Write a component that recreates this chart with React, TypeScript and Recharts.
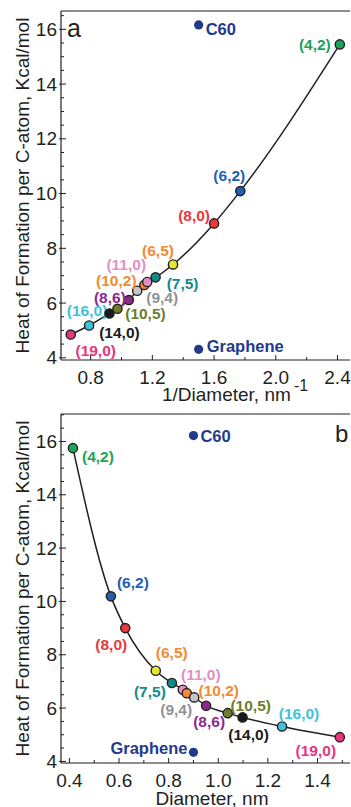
import React from "react";
import { ComposedChart, Line, Scatter, XAxis, YAxis } from "recharts";

// nanotube chiralities, same order in every array below
const tubes = ["(4,2)", "(6,2)", "(8,0)", "(6,5)", "(7,5)", "(11,0)", "(10,2)", "(9,4)", "(8,6)", "(10,5)", "(14,0)", "(16,0)", "(19,0)"];

// panel a: 1/diameter (nm^-1) vs heat of formation
const inverseDiameter = [2.415, 1.77, 1.6, 1.334, 1.221, 1.167, 1.148, 1.102, 1.048, 0.974, 0.922, 0.79, 0.671];
const heatA = [15.45, 10.09, 8.91, 7.41, 6.94, 6.77, 6.66, 6.45, 6.11, 5.79, 5.62, 5.18, 4.85];

// panel b: diameter (nm) vs heat of formation
const diameter = [0.414, 0.567, 0.625, 0.748, 0.813, 0.857, 0.873, 0.903, 0.951, 1.038, 1.098, 1.257, 1.49];
const heatB = [15.75, 10.19, 9.0, 7.4, 6.94, 6.69, 6.56, 6.4, 6.09, 5.81, 5.65, 5.31, 4.91];

// reference structures
const refNames = ["C60", "Graphene"];
const refInverse = [1.5, 1.5];
const refHeatA = [16.16, 4.31];
const refDiameter = [0.9, 0.9];
const refHeatB = [16.22, 4.34];

// ticks
const ticksA = [0.8, 1.0, 1.2, 1.4, 1.6, 1.8, 2.0, 2.2, 2.4];
const labelsA = [0.8, 1.2, 1.6, 2.0, 2.4];
const ticksB = [0.4, 0.5, 0.6, 0.7, 0.8, 0.9, 1.0, 1.1, 1.2, 1.3, 1.4, 1.5];
const labelsB = [0.4, 0.6, 0.8, 1.0, 1.2, 1.4];
const heatTicksA = [4, 4.5, 5, 5.5, 6, 6.5, 7, 7.5, 8, 8.5, 9, 9.5, 10, 10.5, 11, 11.5, 12, 12.5, 13, 13.5, 14, 14.5, 15, 15.5, 16, 16.5];
const heatTicksB = [...heatTicksA, 17];
const heatLabels = [4, 6, 8, 10, 12, 14, 16];

const INK = "#231f20";
const NAVY = "#233a8c";
const FONT = "'Liberation Sans', Arial, Helvetica, sans-serif";

const tubeStyle: Record<string, { fill: string; text: string }> = {
  "(4,2)": { fill: "#1aa556", text: "#1aa556" },
  "(6,2)": { fill: "#1f5fb4", text: "#1f5fb4" },
  "(8,0)": { fill: "#e83a3a", text: "#e83a3a" },
  "(6,5)": { fill: "#e6e82e", text: "#f48a32" },
  "(7,5)": { fill: "#118a8a", text: "#118a8a" },
  "(11,0)": { fill: "#e28fc6", text: "#e28fc6" },
  "(10,2)": { fill: "#f48a32", text: "#f48a32" },
  "(9,4)": { fill: "#c4c6c8", text: "#8d9398" },
  "(8,6)": { fill: "#8a2a8c", text: "#8a2a8c" },
  "(10,5)": { fill: "#6e7d2c", text: "#6e7d2c" },
  "(14,0)": { fill: "#1a1a1a", text: "#1a1a1a" },
  "(16,0)": { fill: "#3ec3da", text: "#3ec3da" },
  "(19,0)": { fill: "#e8357c", text: "#e8357c" },
};

// label centre offsets from each marker, px
const offsetsA: Record<string, [number, number]> = {
  "(4,2)": [-25, 0], "(6,2)": [-11, -16], "(8,0)": [-20, -8], "(6,5)": [-15, -14],
  "(7,5)": [27, 6], "(11,0)": [-21, -18], "(10,2)": [-28, -5], "(9,4)": [25, 7],
  "(8,6)": [-19, -3], "(10,5)": [28, 5], "(14,0)": [10, 19], "(16,0)": [-2, -15], "(19,0)": [25, 16],
};
const offsetsB: Record<string, [number, number]> = {
  "(4,2)": [25, 8], "(6,2)": [22, -14], "(8,0)": [-14, 16], "(6,5)": [16, -18],
  "(7,5)": [-22, 8], "(11,0)": [18, -15], "(10,2)": [32, -3], "(9,4)": [-18, 12],
  "(8,6)": [3, 16], "(10,5)": [23, -8], "(14,0)": [6, 17], "(16,0)": [17, -13], "(19,0)": [-24, 13],
};
const refPlaceA: Record<string, { dx: number; dy: number; anchor: "start" | "end" }> = {
  C60: { dx: 7, dy: 10, anchor: "start" },
  Graphene: { dx: 8, dy: 3, anchor: "start" },
};
const refPlaceB: Record<string, { dx: number; dy: number; anchor: "start" | "end" }> = {
  C60: { dx: 7, dy: 6, anchor: "start" },
  Graphene: { dx: -6, dy: 2, anchor: "end" },
};

const pointsA = tubes.map((name, i) => ({ name, x: inverseDiameter[i], y: heatA[i] })).sort((a, b) => a.x - b.x);
const pointsB = tubes.map((name, i) => ({ name, x: diameter[i], y: heatB[i] })).sort((a, b) => a.x - b.x);
const refsA = refNames.map((name, i) => ({ name, x: refInverse[i], y: refHeatA[i] }));
const refsB = refNames.map((name, i) => ({ name, x: refDiameter[i], y: refHeatB[i] }));

const isIn = (list: number[], v: number) => list.some((l) => Math.abs(l - v) < 1e-6);

type PanelProps = {
  height: number;
  top: number;
  points: Array<{ name: string; x: number; y: number }>;
  refs: Array<{ name: string; x: number; y: number }>;
  xDomain: [number, number];
  yDomain: [number, number];
  xTicks: number[];
  xLabels: number[];
  yTicks: number[];
  offsets: Record<string, [number, number]>;
  refPlace: Record<string, { dx: number; dy: number; anchor: "start" | "end" }>;
};

function Panel({ height, top, points, refs, xDomain, yDomain, xTicks, xLabels, yTicks, offsets, refPlace }: PanelProps) {
  const bottomTick = (p: any) => {
    const v = p.payload.value;
    const major = isIn(xLabels, v);
    return (
      <g>
        <line x1={p.x} x2={p.x} y1={p.y} y2={p.y - (major ? 5 : 3)} stroke={INK} strokeWidth={1} />
        {major && (
          <text x={p.x} y={p.y + 24} textAnchor="middle" fontSize={19} fontFamily={FONT} fill={INK}>
            {v.toFixed(1)}
          </text>
        )}
      </g>
    );
  };
  const topTick = (p: any) => {
    const major = isIn(xLabels, p.payload.value);
    return <line x1={p.x} x2={p.x} y1={p.y} y2={p.y + (major ? 5 : 3)} stroke={INK} strokeWidth={1} />;
  };
  const leftTick = (p: any) => {
    const v = p.payload.value;
    const major = isIn(heatLabels, v);
    return (
      <g>
        <line x1={p.x - (major ? 2 : 0)} x2={p.x + (major ? 5 : 3)} y1={p.y} y2={p.y} stroke={INK} strokeWidth={1} />
        {major && (
          <text x={p.x - 4} y={p.y + 6.5} textAnchor="end" fontSize={19} fontFamily={FONT} fill={INK}>
            {v}
          </text>
        )}
      </g>
    );
  };
  const renderDot = (p: any) => {
    const { cx, cy, payload, index } = p;
    const st = tubeStyle[payload.name];
    const [dx, dy] = offsets[payload.name];
    return (
      <g key={`tube-${index}`}>
        <circle cx={cx} cy={cy} r={4.6} fill={st.fill} stroke={INK} strokeWidth={1.4} />
        <text x={cx + dx} y={cy + dy + 5.6} textAnchor="middle" fontSize={15.5} fontWeight="bold" fontFamily={FONT} fill={st.text}>
          {payload.name}
        </text>
      </g>
    );
  };
  const renderRef = (p: any) => {
    const { cx, cy, payload } = p;
    const pl = refPlace[payload.name];
    return (
      <g>
        <circle cx={cx} cy={cy} r={4.6} fill={NAVY} />
        <text x={cx + pl.dx} y={cy + pl.dy} textAnchor={pl.anchor} fontSize={16.5} fontWeight="bold" fontFamily={FONT} fill={NAVY}>
          {payload.name}
        </text>
      </g>
    );
  };

  return (
    <ComposedChart width={351} height={height} margin={{ top: 0, right: 1, bottom: 0, left: 0 }}>
      <XAxis
        xAxisId="top"
        orientation="top"
        type="number"
        domain={xDomain}
        allowDataOverflow
        ticks={xTicks}
        interval={0}
        height={top}
        tickSize={0}
        tickMargin={0}
        tickLine={false}
        axisLine={{ stroke: INK, strokeWidth: 1.2 }}
        tick={topTick}
      />
      <XAxis
        type="number"
        dataKey="x"
        domain={xDomain}
        allowDataOverflow
        ticks={xTicks}
        interval={0}
        height={44}
        tickSize={0}
        tickMargin={0}
        tickLine={false}
        axisLine={{ stroke: INK, strokeWidth: 1.2 }}
        tick={bottomTick}
      />
      <YAxis
        type="number"
        dataKey="y"
        domain={yDomain}
        allowDataOverflow
        ticks={yTicks}
        interval={0}
        width={61}
        tickSize={0}
        tickMargin={0}
        tickLine={false}
        axisLine={{ stroke: INK, strokeWidth: 1.2 }}
        tick={leftTick}
      />
      <Line
        data={points}
        dataKey="y"
        type="monotone"
        stroke={INK}
        strokeWidth={1.5}
        dot={renderDot}
        activeDot={false}
        isAnimationActive={false}
      />
      <Scatter data={refs} dataKey="y" shape={renderRef} isAnimationActive={false} />
    </ComposedChart>
  );
}

export default function App() {
  return (
    <div style={{ position: "absolute", left: 0, top: 0, width: 351, height: 807, background: "#fff", fontFamily: FONT }}>
      <div style={{ position: "absolute", left: 0, top: 0 }}>
        <Panel
          height={404}
          top={11}
          points={pointsA}
          refs={refsA}
          xDomain={[0.608, 2.481]}
          yDomain={[3.92, 16.67]}
          xTicks={ticksA}
          xLabels={labelsA}
          yTicks={heatTicksA}
          offsets={offsetsA}
          refPlace={refPlaceA}
        />
      </div>
      <div style={{ position: "absolute", left: 0, top: 404 }}>
        <Panel
          height={403}
          top={10}
          points={pointsB}
          refs={refsB}
          xDomain={[0.366, 1.531]}
          yDomain={[3.94, 17.03]}
          xTicks={ticksB}
          xLabels={labelsB}
          yTicks={heatTicksB}
          offsets={offsetsB}
          refPlace={refPlaceB}
        />
      </div>
      <svg width={351} height={807} style={{ position: "absolute", left: 0, top: 0, pointerEvents: "none" }}>
        <g fontFamily={FONT} fill={INK}>
          <text transform="translate(29,185.5) rotate(-90)" textAnchor="middle" fontSize={19}>
            Heat of Formation per C-atom, Kcal/mol
          </text>
          <text transform="translate(29,588.5) rotate(-90)" textAnchor="middle" fontSize={19}>
            Heat of Formation per C-atom, Kcal/mol
          </text>
          <text x={162} y={401} fontSize={19}>1/Diameter, nm</text>
          <text x={294} y={391} fontSize={16}>-1</text>
          <text x={212} y={805} textAnchor="middle" fontSize={19}>Diameter, nm</text>
          <text x={67} y={37} fontSize={25}>a</text>
          <text x={335} y={442} fontSize={24}>b</text>
        </g>
      </svg>
    </div>
  );
}
